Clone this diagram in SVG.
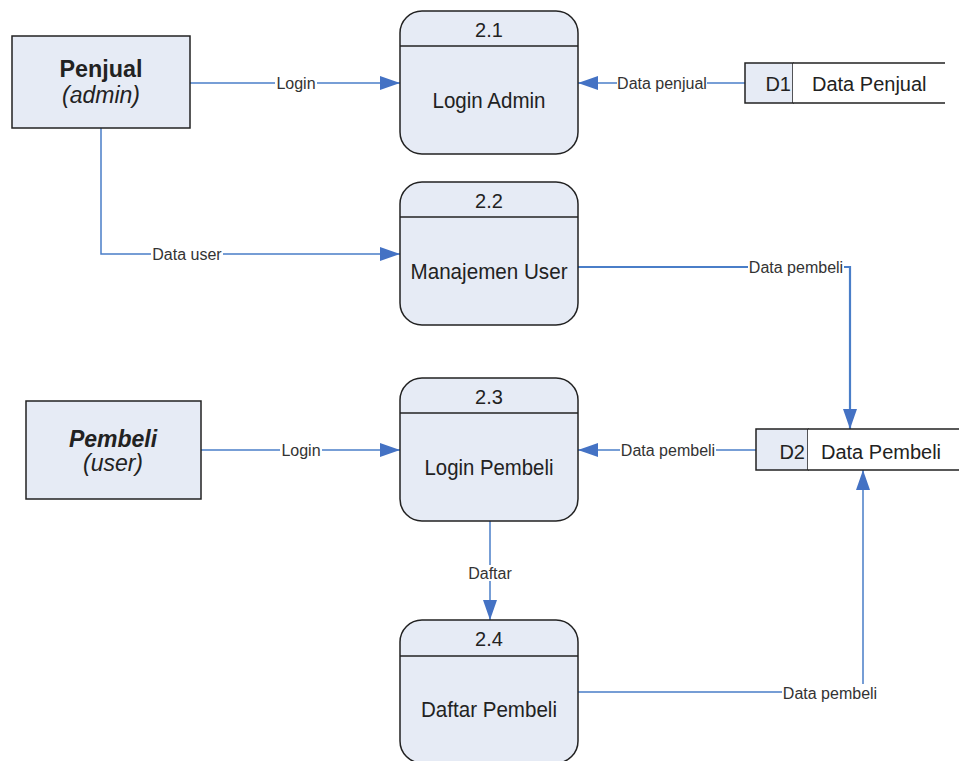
<svg xmlns="http://www.w3.org/2000/svg" width="959" height="761" viewBox="0 0 959 761">
<defs>
<marker id="ah" markerUnits="userSpaceOnUse" markerWidth="20" markerHeight="14" refX="20" refY="7" orient="auto">
<path d="M0,0 L20,7 L0,14 z" fill="#4472C4"/>
</marker>
<style>
.ent{fill:#E6EBF5;stroke:#222;stroke-width:1.5}
.proc{fill:#E6EBF5;stroke:#222;stroke-width:1.5}
.hdr{stroke:#222;stroke-width:1.5}
.ds{fill:#E6EBF5;stroke:#222;stroke-width:1.5}
.dsw{fill:#fff;stroke:none}
.line{stroke:#222;stroke-width:1.5;fill:none}
.nt{font-family:"Liberation Sans",Arial,sans-serif;font-size:22px;fill:#222;text-anchor:middle}
.num{font-family:"Liberation Sans",Arial,sans-serif;font-size:20px;fill:#222;text-anchor:middle}
.dt{font-family:"Liberation Sans",Arial,sans-serif;font-size:20px;fill:#222}
.et{font-family:"Liberation Sans",Arial,sans-serif;font-size:23px;fill:#222;text-anchor:middle}
.conn{fill:none;stroke:#4A7EC8;stroke-width:1.5}
.lb{fill:#fff}
.lbl{font-family:"Liberation Sans",Arial,sans-serif;font-size:16px;fill:#333;text-anchor:middle}
</style>
</defs>

<g id="connectors">
<path class="conn" d="M190,83 H400" marker-end="url(#ah)"/>
<path class="conn" d="M745,83 H578" marker-end="url(#ah)"/>
<path class="conn" d="M101,128 V254 H400" marker-end="url(#ah)"/>
<path class="conn" d="M578,267 H850 V429" style="stroke-width:2.2" marker-end="url(#ah)"/>
<path class="conn" d="M201,450 H400" marker-end="url(#ah)"/>
<path class="conn" d="M756,450 H578" marker-end="url(#ah)"/>
<path class="conn" d="M490,521 V620" marker-end="url(#ah)"/>
<path class="conn" d="M578,692 H863 V470" marker-end="url(#ah)"/>
<rect class="lb" x="275" y="75" width="42" height="16"/>
<text class="lbl" x="296" y="89">Login</text>
<rect class="lb" x="617" y="75" width="90" height="16"/>
<text class="lbl" x="662" y="89">Data penjual</text>
<rect class="lb" x="151" y="246" width="72" height="16"/>
<text class="lbl" x="187" y="260">Data user</text>
<rect class="lb" x="748" y="259" width="96" height="16"/>
<text class="lbl" x="796" y="273">Data pembeli</text>
<rect class="lb" x="280" y="442" width="42" height="16"/>
<text class="lbl" x="301" y="456">Login</text>
<rect class="lb" x="620" y="442" width="96" height="16"/>
<text class="lbl" x="668" y="456">Data pembeli</text>
<rect class="lb" x="467" y="565" width="46" height="16"/>
<text class="lbl" x="490" y="579">Daftar</text>
<rect class="lb" x="782" y="684" width="96" height="18"/>
<text class="lbl" x="830" y="699">Data pembeli</text>
</g>

<g id="penjual">
<rect class="ent" x="12" y="36" width="178" height="92"/>
<text class="et" x="101" y="77" font-weight="bold" font-size="24" textLength="83" lengthAdjust="spacingAndGlyphs">Penjual</text>
<text class="et" x="101" y="103" font-style="italic" font-size="22">(admin)</text>
</g>

<g id="pembeli">
<rect class="ent" x="26" y="401" width="175" height="98"/>
<text class="et" x="113" y="447" font-weight="bold" font-style="italic">Pembeli</text>
<text class="et" x="113" y="471" font-style="italic">(user)</text>
</g>

<g id="p21">
<rect class="proc" x="400" y="11" width="178" height="143" rx="22"/>
<line class="hdr" x1="400" y1="46" x2="578" y2="46"/>
<text class="num" x="489" y="37">2.1</text>
<text class="nt" x="489" y="108" textLength="113" lengthAdjust="spacingAndGlyphs">Login Admin</text>
</g>

<g id="p22">
<rect class="proc" x="400" y="182" width="178" height="143" rx="22"/>
<line class="hdr" x1="400" y1="217" x2="578" y2="217"/>
<text class="num" x="489" y="208">2.2</text>
<text class="nt" x="489" y="279" textLength="157" lengthAdjust="spacingAndGlyphs">Manajemen User</text>
</g>

<g id="p23">
<rect class="proc" x="400" y="378" width="178" height="143" rx="22"/>
<line class="hdr" x1="400" y1="413" x2="578" y2="413"/>
<text class="num" x="489" y="404">2.3</text>
<text class="nt" x="489" y="475" textLength="129" lengthAdjust="spacingAndGlyphs">Login Pembeli</text>
</g>

<g id="p24">
<rect class="proc" x="400" y="620" width="178" height="143" rx="22"/>
<line class="hdr" x1="400" y1="656" x2="578" y2="656"/>
<text class="num" x="489" y="646">2.4</text>
<text class="nt" x="489" y="717" textLength="136" lengthAdjust="spacingAndGlyphs">Daftar Pembeli</text>
</g>

<g id="d1">
<rect class="ds" x="745" y="63" width="48" height="40"/>
<rect class="dsw" x="793" y="63" width="152" height="40"/>
<path class="line" d="M793,63 H945 M793,103 H945"/>
<text class="dt" x="791" y="91" text-anchor="end">D1</text>
<text class="dt" x="812" y="91">Data Penjual</text>
</g>

<g id="d2">
<rect class="ds" x="756" y="429" width="52" height="41"/>
<rect class="dsw" x="808" y="429" width="151" height="41"/>
<path class="line" d="M808,429 H959 M808,470 H959"/>
<text class="dt" x="805" y="459" text-anchor="end">D2</text>
<text class="dt" x="821" y="459">Data Pembeli</text>
</g>
</svg>
